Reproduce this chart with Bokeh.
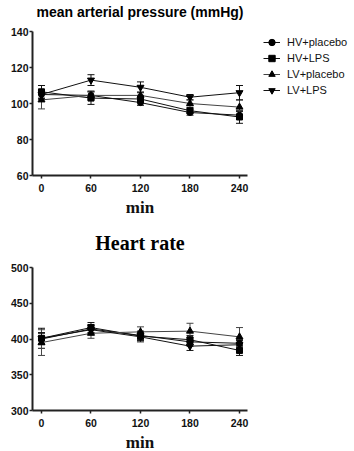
from bokeh.plotting import figure
from bokeh.layouts import column
from bokeh.models import (ColumnDataSource, Whisker, TeeHead, Legend, LegendItem,
                          FixedTicker, Range1d, Title)
from bokeh.embed import file_html
from bokeh.resources import INLINE

# ---------------- data ----------------
minutes = [0, 60, 120, 180, 240]
groups = ["HV+placebo", "HV+LPS", "LV+placebo", "LV+LPS"]
markers = ["circle", "square", "triangle", "inverted_triangle"]

map_hv_placebo = [105, 104.5, 100.5, 95, 93.5]
map_hv_lps = [106.5, 103, 102.5, 96, 92.5]
map_lv_placebo = [102, 104.5, 104.5, 100, 98]
map_lv_lps = [105, 113, 109, 103.5, 106]
map_err_hv_placebo = [2.5, 2.0, 1.5, 1.5, 2.0]
map_err_hv_lps = [3.5, 3.5, 2.0, 1.5, 3.5]
map_err_lv_placebo = [5.0, 2.5, 2.0, 2.0, 4.0]
map_err_lv_lps = [2.5, 3.0, 3.0, 1.5, 4.0]

hr_hv_placebo = [400, 414, 405, 396, 394]
hr_hv_lps = [401, 416, 404, 399, 384]
hr_lv_placebo = [395, 408, 410, 411, 403]
hr_lv_lps = [401, 413, 403, 390, 392]
hr_err_hv_placebo = [8, 6, 6, 6, 5]
hr_err_hv_lps = [14, 7, 6, 6, 7]
hr_err_lv_placebo = [18, 7, 7, 11, 13]
hr_err_lv_lps = [8, 6, 7, 6, 6]

map_ticks = [60, 80, 100, 120, 140]
hr_ticks = [300, 350, 400, 450, 500]

map_series = [map_hv_placebo, map_hv_lps, map_lv_placebo, map_lv_lps]
map_errs = [map_err_hv_placebo, map_err_hv_lps, map_err_lv_placebo, map_err_lv_lps]
hr_series = [hr_hv_placebo, hr_hv_lps, hr_lv_placebo, hr_lv_lps]
hr_errs = [hr_err_hv_placebo, hr_err_hv_lps, hr_err_lv_placebo, hr_err_lv_lps]

line_colors = ["#111111", "#111111", "#444444", "#111111"]
marker_sizes = [6, 6, 7, 7]


def make_fig(title, title_font, title_size, gap, yr, yticks,
             series, errs, top, bottom, fheight):
    p = figure(frame_width=215, frame_height=fheight,
               min_border_left=32, min_border_right=107,
               min_border_top=top, min_border_bottom=bottom,
               x_range=Range1d(-10.9, 249.7), y_range=Range1d(*yr),
               output_backend="svg", toolbar_location=None, title=None)
    # empty spacer between frame and title, so that the title sits higher
    spacer = Title(text=" ", text_font_size="1px", standoff=gap)
    p.add_layout(spacer, "above")
    t = Title(text=title, align="center", text_font=title_font,
              text_font_size=title_size, text_font_style="bold",
              text_color="#000000", standoff=0)
    p.add_layout(t, "above")
    p.outline_line_color = None
    p.xgrid.visible = False
    p.ygrid.visible = False
    p.xaxis.ticker = FixedTicker(ticks=minutes)
    p.yaxis.ticker = FixedTicker(ticks=yticks)
    for ax in (p.xaxis[0], p.yaxis[0]):
        ax.axis_line_width = 2
        ax.axis_line_color = "#222222"
        ax.major_tick_line_color = "#222222"
        ax.major_tick_line_width = 1.5
        ax.major_tick_out = 3
        ax.major_tick_in = 0
        ax.minor_tick_line_color = None
        ax.major_label_text_font = "Liberation Sans"
        ax.major_label_text_font_style = "bold"
        ax.major_label_text_font_size = "10.5px"
        ax.major_label_text_color = "#111111"
    p.yaxis.major_label_standoff = 1
    p.xaxis.major_label_standoff = 5
    p.xaxis.axis_label = "min"
    p.xaxis.axis_label_text_font = "Liberation Serif"
    p.xaxis.axis_label_text_font_style = "bold"
    p.xaxis.axis_label_text_font_size = "17px"
    p.xaxis.axis_label_text_color = "#111111"
    p.xaxis.axis_label_standoff = 3

    items = []
    for i, (ys, es) in enumerate(zip(series, errs)):
        src = ColumnDataSource(dict(
            x=minutes, y=ys,
            upper=[a + b for a, b in zip(ys, es)],
            lower=[a - b for a, b in zip(ys, es)]))
        w = Whisker(base="x", upper="upper", lower="lower", source=src,
                    line_color=line_colors[i], line_width=1,
                    upper_head=TeeHead(size=7, line_color=line_colors[i], line_width=1),
                    lower_head=TeeHead(size=7, line_color=line_colors[i], line_width=1))
        p.add_layout(w)
        lr = p.line("x", "y", source=src, line_color=line_colors[i], line_width=1)
        sr = p.scatter("x", "y", source=src, marker=markers[i], size=marker_sizes[i],
                       fill_color="black", line_color="black")
        items.append(LegendItem(label=groups[i], renderers=[lr, sr]))
    return p, items


p1, items1 = make_fig("mean arterial pressure (mmHg)", "Liberation Sans", "14px", 9,
                      (60, 140), map_ticks, map_series, map_errs, 31, 51, 144)
legend = Legend(items=items1, location=(16, 77), background_fill_alpha=0,
                border_line_color=None, padding=0, margin=0, spacing=0,
                label_height=16, glyph_height=16, glyph_width=17, label_standoff=7,
                label_text_font="Liberation Sans", label_text_font_size="11px",
                label_text_color="#111111")
p1.add_layout(legend, "right")

p2, _ = make_fig("Heart rate", "Liberation Serif", "20px", 11,
                 (300, 500), hr_ticks, hr_series, hr_errs, 41, 41, 143)

layout = column(p1, p2, spacing=0)
open("out.html", "w").write(file_html(layout, INLINE))
